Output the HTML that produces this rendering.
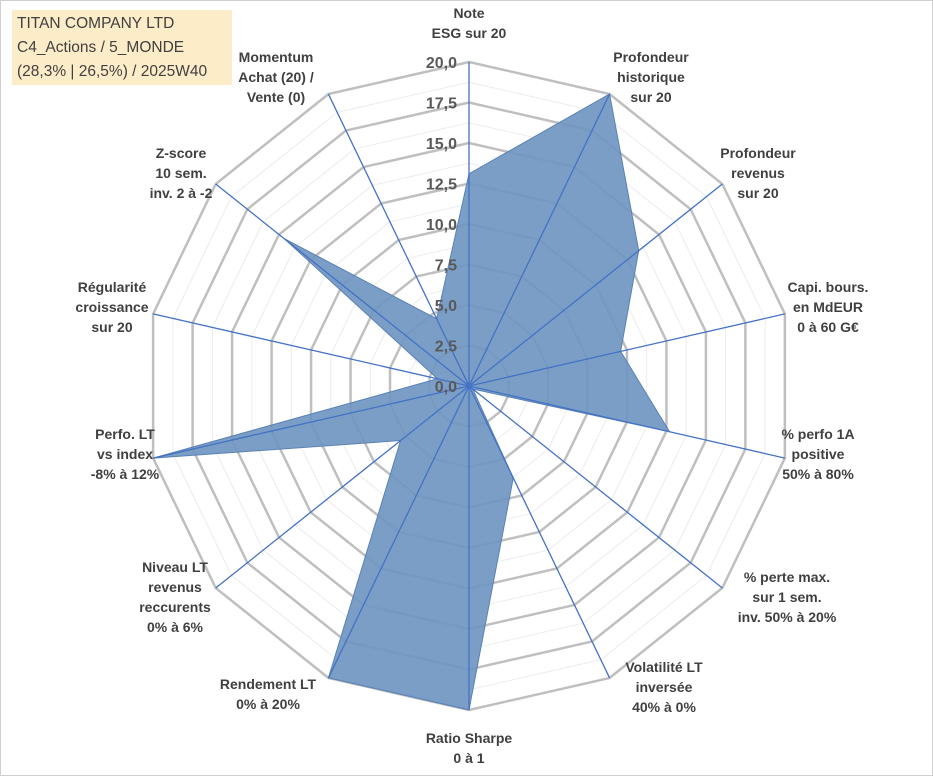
<!DOCTYPE html>
<html><head><meta charset="utf-8"><style>
body{margin:0;width:933px;height:776px;background:#fff;overflow:hidden;font-family:"Liberation Sans",sans-serif}
#frame{position:absolute;left:0;top:0;width:931px;height:774px;border:1px solid #d0d0d0}
#title{position:absolute;left:12px;top:10px;width:220px;height:75px;background:#fdecc8;color:#404040;font-size:15.5px;line-height:24px;padding-left:5px;box-sizing:border-box;padding-top:2px}
svg text{font-family:"Liberation Sans",sans-serif}
</style></head><body>
<div id="frame"></div>
<div id="title">TITAN COMPANY LTD<br>C4_Actions / 5_MONDE<br>(28,3% | 26,5%) / 2025W40</div>
<svg id="chart" width="933" height="776" style="position:absolute;left:0;top:0"></svg>
<script>
const categories=[["Note","ESG sur 20"],["Profondeur","historique","sur 20"],["Profondeur","revenus","sur 20"],["Capi. bours.","en MdEUR","0 à 60 G€"],["% perfo 1A","positive","50% à 80%"],["% perte max.","sur 1 sem.","inv. 50% à 20%"],["Volatilité LT","inversée","40% à 0%"],["Ratio Sharpe","0 à 1"],["Rendement LT","0% à 20%"],["Niveau LT","revenus","reccurents","0% à 6%"],["Perfo. LT","vs index","-8% à 12%"],["Régularité","croissance","sur 20"],["Z-score","10 sem.","inv. 2 à -2"],["Momentum","Achat (20) /","Vente (0)"]];
const values=[13.1,20,13.4,9.6,12.7,0.3,6.3,20,20,5.4,20,2.0,14.6,4.6];
const ticks=["0,0","2,5","5,0","7,5","10,0","12,5","15,0","17,5","20,0"];
const tickValues=[0,2.5,5,7.5,10,12.5,15,17.5,20];
const labelPos=[[469,18],[651,62],[758,158],[828,292],[818,439],[787,582],[664,672],[469,743],[268,689],[175,572],[125,439],[112,292],[181,158],[276,62]];
const cx=469,cy=386,R=324,maxV=20,N=categories.length;
const svg=document.getElementById('chart');const NS='http://www.w3.org/2000/svg';
function rScale(v){return v/maxV*R;}
function pt(i,v){const a=i*2*Math.PI/N;return [cx+rScale(v)*Math.sin(a),cy-rScale(v)*Math.cos(a)];}
function mk(t,at){const e=document.createElementNS(NS,t);for(const k in at)e.setAttribute(k,at[k]);svg.appendChild(e);return e;}
// minor rings
for(let v=1.25;v<=20;v+=2.5){const p=mk('polygon',{points:categories.map((c,i)=>pt(i,v).join(',')).join(' '),fill:'none',stroke:'#ececec','stroke-width':1});

}
tickValues.forEach(v=>{if(v===0)return;const p=mk('polygon',{points:categories.map((c,i)=>pt(i,v).join(',')).join(' '),fill:'none',stroke:'#bfbfbf','stroke-width':2.5});

});
const poly=mk('polygon',{points:values.map((v,i)=>pt(i,v).join(',')).join(' '),fill:'#7096c2','fill-opacity':0.92,stroke:'#5b82b5','stroke-width':1});


categories.forEach((c,i)=>{const e=pt(i,20);const l=mk('line',{x1:cx,y1:cy,x2:e[0],y2:e[1],stroke:'#4472c4','stroke-width':1.3});

});
mk('circle',{cx:cx,cy:cy,r:3,fill:'#4472c4'});
tickValues.forEach((v,k)=>{const t=mk('text',{x:cx-12,y:cy-rScale(v)+6,'text-anchor':'end','font-size':16,'font-weight':'bold',fill:'#595959'});t.textContent=ticks[k];

});
categories.forEach((c,i)=>{const [x,y]=labelPos[i];const t=mk('text',{x:x,y:y,'text-anchor':'middle','font-size':14,'font-weight':'bold',fill:'#404040'});


c.forEach((s,k)=>{const ts=document.createElementNS(NS,'tspan');ts.setAttribute('x',x);ts.setAttribute('dy',k?20:0);ts.textContent=s;t.appendChild(ts);});});
</script>
</body></html>
